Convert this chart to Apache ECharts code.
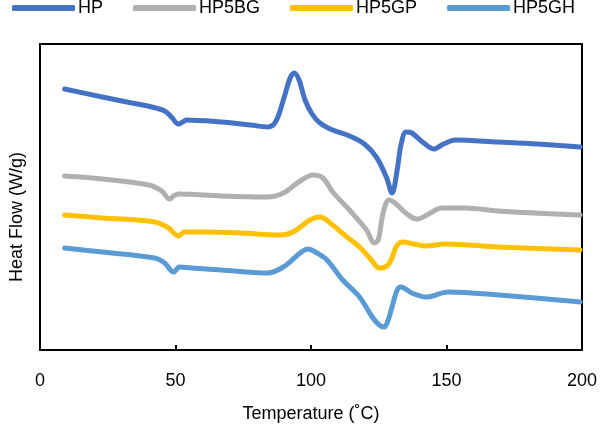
<!DOCTYPE html>
<html>
<head>
<meta charset="utf-8">
<script src="https://cdn.jsdelivr.net/npm/echarts@6/dist/echarts.min.js"></script>
<style>html,body{margin:0;padding:0;background:#fff}#c{width:600px;height:429px}</style>
</head>
<body>
<div id="c"></div>
<script>
const seriesNames = ['HP', 'HP5BG', 'HP5GP', 'HP5GH'];
const xTicks = [0, 50, 100, 150, 200];

// [temperature (°C), heat flow (W/g, offset for display)]
const hp = [
  [9.1,2.61],[23.0,2.53],[33.9,2.47],[41.2,2.43],[46.0,2.39],[48.5,2.33],[51.1,2.26],[52.6,2.28],[54.0,2.30],
  [66.8,2.28],[77.7,2.25],[84.0,2.23],[86.9,2.28],[89.8,2.50],[92.3,2.72],[93.8,2.77],[95.6,2.70],[97.8,2.50],
  [100.4,2.36],[103.3,2.27],[108.0,2.20],[114.2,2.14],[119.7,2.06],[124.1,1.93],[127.8,1.73],[129.9,1.57],
  [131.8,1.80],[133.2,2.05],[135.1,2.18],[137.2,2.17],[141.6,2.07],[145.3,2.01],[148.9,2.06],[153.3,2.10],
  [169.0,2.08],[183.6,2.06],[199.3,2.03]
];
const hp5bg = [
  [9.1,1.74],[23.0,1.71],[40.2,1.65],[44.9,1.59],[47.8,1.51],[49.3,1.54],[51.1,1.56],[66.8,1.54],[84.0,1.53],
  [89.8,1.57],[96.0,1.69],[100.7,1.75],[104.4,1.72],[108.0,1.58],[114.2,1.40],[120.5,1.20],[123.4,1.07],
  [124.8,1.10],[126.7,1.38],[128.8,1.50],[131.0,1.47],[135.4,1.36],[139.1,1.31],[143.4,1.36],[148.2,1.42],
  [157.0,1.42],[169.0,1.39],[199.3,1.35]
];
const hp5gp = [
  [9.1,1.35],[23.0,1.32],[42.3,1.28],[47.5,1.22],[49.3,1.17],[51.1,1.14],[53.3,1.18],[60.6,1.18],[74.1,1.17],
  [88.7,1.15],[93.4,1.18],[99.6,1.30],[103.3,1.33],[108.0,1.25],[112.4,1.15],[117.9,1.03],[122.3,0.90],
  [125.2,0.82],[128.1,0.84],[129.9,0.92],[131.4,1.03],[133.6,1.08],[138.0,1.06],[142.4,1.04],[149.7,1.06],
  [169.0,1.03],[199.3,1.00]
];
const hp5gh = [
  [9.1,1.02],[23.0,0.98],[42.3,0.92],[46.0,0.87],[49.3,0.78],[51.5,0.83],[55.8,0.82],[66.8,0.80],[84.0,0.77],
  [89.8,0.83],[96.0,0.97],[98.9,1.01],[102.2,0.97],[105.9,0.90],[111.7,0.70],[117.9,0.53],[122.6,0.33],
  [125.2,0.25],[127.0,0.23],[128.5,0.30],[129.9,0.43],[131.8,0.60],[133.2,0.63],[137.2,0.57],[142.4,0.53],
  [150.7,0.58],[169.0,0.55],[199.3,0.48]
];
const colors = ['#4472C4', '#B0B0B0', '#FFC000', '#5B9BD5'];
const allData = [hp, hp5bg, hp5gp, hp5gh];

const font = "'Liberation Sans', Arial, sans-serif";
const chart = echarts.init(document.getElementById('c'), null, {renderer: 'canvas'});
chart.setOption({
  animation: false,
  textStyle: {fontFamily: font},
  legend: {
    data: seriesNames,
    top: -1,
    left: 12,
    padding: 0,
    itemWidth: 63,
    itemHeight: 6,
    itemGap: 30,
    icon: 'roundRect',
    textStyle: {fontSize: 18, color: '#000', fontFamily: font, padding: [0, 0, 0, -2]}
  },
  grid: {
    left: 37, right: 16, top: 44, bottom: 79,
    show: true, borderColor: '#000', borderWidth: 2, containLabel: false
  },
  xAxis: {
    type: 'value', min: xTicks[0], max: xTicks[xTicks.length - 1], interval: 50,
    name: 'Temperature (˚C)', nameLocation: 'middle', nameGap: 55,
    nameTextStyle: {fontSize: 18, color: '#000', fontFamily: font},
    axisLine: {show: true, lineStyle: {color: '#000', width: 2}},
    axisTick: {show: true, inside: true, length: 5, lineStyle: {color: '#000', width: 2}},
    axisLabel: {fontSize: 18, color: '#000', margin: 22, fontFamily: font},
    splitLine: {show: false}
  },
  yAxis: {
    type: 'value', min: 0, max: 3.06,
    name: 'Heat Flow (W/g)', nameLocation: 'middle', nameGap: 14,
    nameTextStyle: {fontSize: 18, color: '#000', fontFamily: font, padding: [0, 40, 0, 0]},
    axisLine: {show: true, lineStyle: {color: '#000', width: 2}},
    axisTick: {show: false}, axisLabel: {show: false}, splitLine: {show: false}
  },
  series: seriesNames.map((n, i) => ({
    name: n, type: 'line', data: allData[i], smooth: 0.35, showSymbol: false,
    lineStyle: {color: colors[i], width: 5, cap: 'round', join: 'round'},
    itemStyle: {color: colors[i]}
  }))
});
</script>
</body>
</html>
